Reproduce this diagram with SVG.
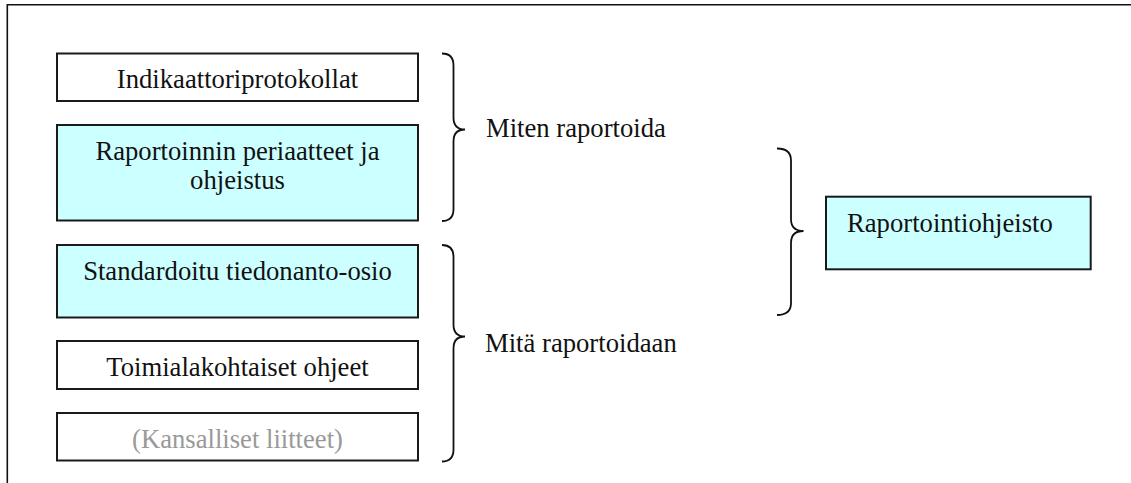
<svg xmlns="http://www.w3.org/2000/svg" width="1131" height="483" viewBox="0 0 1131 483">
<style>
.box{stroke:#1a1a1a;stroke-width:2}
.w{fill:#ffffff}
.c{fill:#ccffff}
.t{font-family:"Liberation Serif","Times New Roman",serif;font-size:26.67px;fill:#111}
.g{fill:#999999}
.brace{fill:none;stroke:#111;stroke-width:1.8}
</style>
<rect width="1131" height="483" fill="#ffffff"/>
<g id="frame">
<path d="M7.3 483 V4.7 H1131" fill="none" stroke="#111" stroke-width="1.6"/>
</g>
<g id="n1">
<rect class="box w" x="57" y="53.5" width="361" height="47.5"/>
<text class="t" x="237.5" y="88" text-anchor="middle">Indikaattoriprotokollat</text>
</g>
<g id="n2">
<rect class="box c" x="57" y="125" width="361" height="95.5"/>
<text class="t" x="237.5" y="159.5" text-anchor="middle">Raportoinnin periaatteet ja</text>
<text class="t" x="237.5" y="188.5" text-anchor="middle">ohjeistus</text>
</g>
<g id="n3">
<rect class="box c" x="57" y="245" width="361" height="72.5"/>
<text class="t" x="237.5" y="280" text-anchor="middle">Standardoitu tiedonanto-osio</text>
</g>
<g id="n4">
<rect class="box w" x="57" y="341" width="361" height="48"/>
<text class="t" x="237.5" y="375.5" text-anchor="middle">Toimialakohtaiset ohjeet</text>
</g>
<g id="n5">
<rect class="box w" x="57" y="413" width="361" height="47.5"/>
<text class="t g" x="237.5" y="448" text-anchor="middle">(Kansalliset liitteet)</text>
</g>
<g id="n6">
<rect class="box c" x="826" y="196.7" width="264.7" height="72.6"/>
<text class="t" x="847" y="231.5">Raportointiohjeisto</text>
</g>
<g id="connectors">
<path class="brace" d="M442 53.5 Q453.5 53.5 453.5 65.5 L453.5 117.5 Q453.5 129.5 465 129.5 Q453.5 129.5 453.5 141.5 L453.5 209 Q453.5 221 442 221"/>
<path class="brace" d="M442 245 Q453.5 245 453.5 257 L453.5 324.5 Q453.5 336.5 465 336.5 Q453.5 336.5 453.5 348.5 L453.5 449.5 Q453.5 461.5 442 461.5"/>
<path class="brace" d="M777 148.5 Q791 148.5 791 160.5 L791 219 Q791 231 803.5 231 Q791 231 791 243 L791 303 Q791 315 777 315"/>
</g>
<g id="labels">
<text class="t" x="486" y="137">Miten raportoida</text>
<text class="t" x="485" y="351.5">Mitä raportoidaan</text>
</g>
</svg>
